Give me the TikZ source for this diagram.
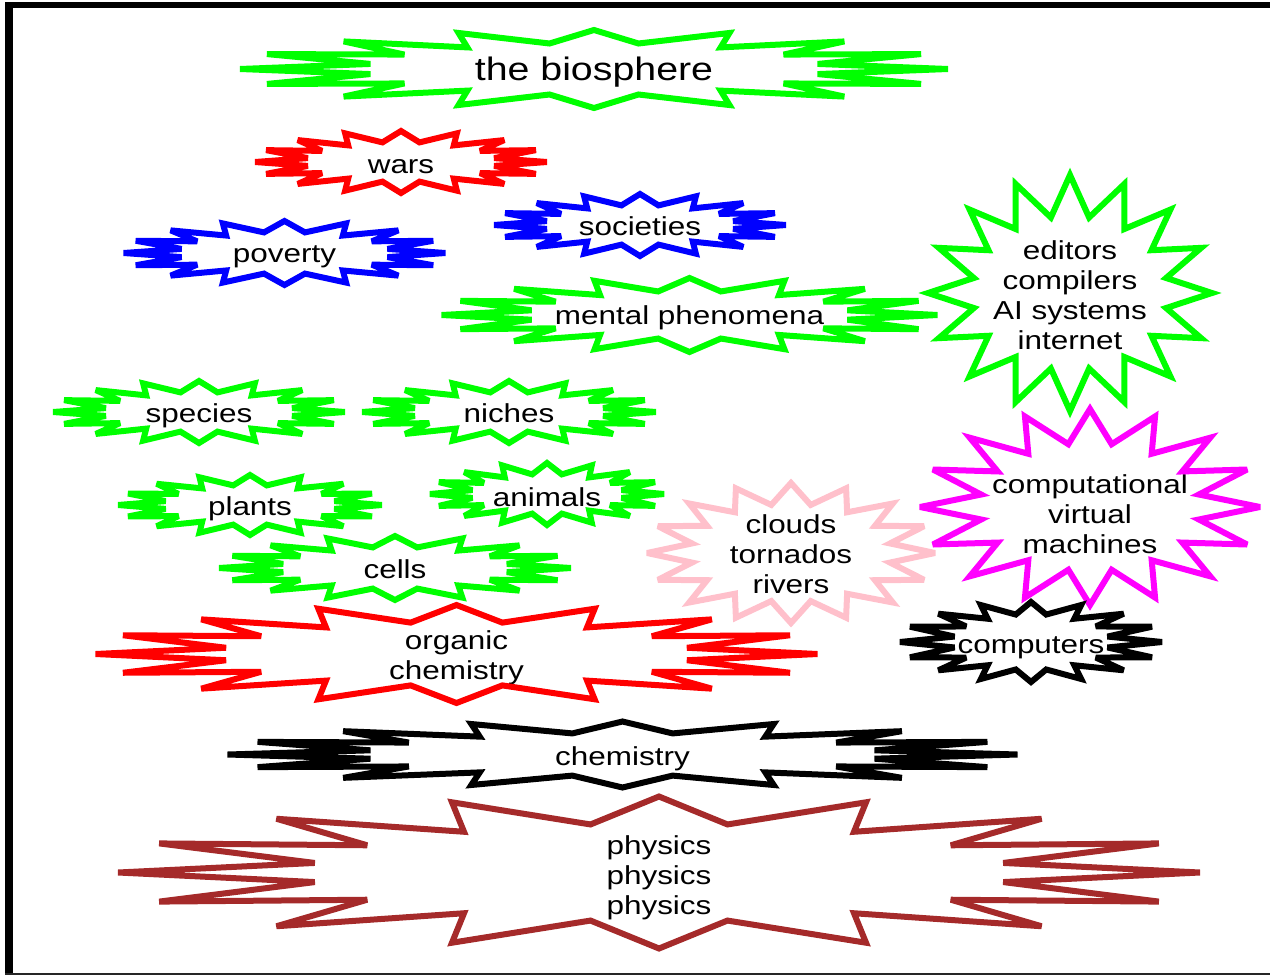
\documentclass[tikz,border=0pt]{standalone}
\usepackage{fontspec}
\setmainfont{Liberation Sans}[FakeStretch=1.21]
\usetikzlibrary{calc}

\definecolor{bgreen}{RGB}{0,255,0}
\definecolor{bred}{RGB}{255,0,0}
\definecolor{bblue}{RGB}{0,0,255}
\definecolor{bpink}{RGB}{255,192,203}
\definecolor{bmagenta}{RGB}{255,0,255}
\definecolor{bbrown}{RGB}{165,42,42}

% 16-point burst around a node:
% #1 draw options, #2 node, #3 vertical offset of the burst centre,
% #4/#5 outer x/y radius, #6/#7 inner x/y radius
\newcommand\burst[7]{%
  \coordinate (#2-c) at ($(#2)+(0,#3)$);
  \draw[burstline,#1] ($(#2-c)+(0:#4 and #5)$)
    \foreach \k in {0,...,15}{
      -- ($(#2-c)+({\k*22.5+11.25}:#6 and #7)$)
      -- ($(#2-c)+({\k*22.5+22.5}:#4 and #5)$)
    } -- cycle;
}

\begin{document}
\begin{tikzpicture}[x=1pt,y=-1pt,
  burstline/.style={line width=6pt, miter limit=4},
  lbl/.style={font=\fontsize{26}{30}\selectfont, align=center, inner sep=0pt},
  big/.style={font=\fontsize{32.5}{38}\selectfont, align=center, inner sep=0pt}]
\useasboundingbox (0,0) rectangle (1270,975);

% frame
\fill[black] (5,2) rectangle (13,975);
\fill[black] (5,2) rectangle (1270,8);
\fill[black!85] (5,972.5) rectangle (1270,975);

% labels
\node[big] (bio) at (594,72) {the biosphere};
\node[lbl] (wars) at (401,167) {wars};
\node[lbl] (soc) at (640,226) {societies};
\node[lbl] (pov) at (284.5,257) {poverty};
\node[lbl] (mental) at (689.5,318) {mental phenomena};
\node[lbl] (tools) at (1070,295.5) {editors\\compilers\\AI systems\\internet};
\node[lbl] (species) at (199,416) {species};
\node[lbl] (niches) at (509,413) {niches};
\node[lbl] (plants) at (250,509) {plants};
\node[lbl] (animals) at (547,497) {animals};
\node[lbl] (cells) at (395,569) {cells};
\node[lbl] (clouds) at (791,554) {clouds\\tornados\\rivers};
\node[lbl] (cvm) at (1090,514) {computational\\virtual\\machines};
\node[lbl] (comp) at (1031,648) {computers};
\node[lbl] (orgchem) at (456.5,658) {organic\\chemistry};
\node[lbl] (chem) at (622.5,759) {chemistry};
\node[lbl] (phys) at (659,878) {physics\\physics\\physics};

% bursts
\burst{bgreen}{bio}{-3}{354}{39}{228}{26}
\burst{bred}{wars}{-5}{146}{31}{95}{20}
\burst{bblue}{soc}{-1}{146}{31}{95}{20}
\burst{bblue}{pov}{-4}{161}{32}{105}{21}
\burst{bgreen}{mental}{-3}{248}{37}{161}{24}
\burst{bgreen}{tools}{-2.5}{142}{118}{98}{77}
\burst{bgreen}{species}{-4}{146}{31}{95}{20}
\burst{bgreen}{niches}{-1}{147}{31}{96}{20}
\burst{bgreen}{plants}{-4}{132}{30}{86}{20}
\burst{bgreen}{animals}{-3}{117}{31}{76}{20}
\burst{bgreen}{cells}{-1}{176}{32}{114}{21}
\burst{bpink}{clouds}{-1}{144}{70}{101}{49}
\burst{bmagenta}{cvm}{-7}{170}{98}{111}{64}
\burst{black}{comp}{-6}{131}{40}{78}{28}
\burst{bred}{orgchem}{-4}{361}{49}{235}{32}
\burst{black}{chem}{-4.5}{395}{33}{257}{21.5}
\burst{bbrown}{phys}{-5.5}{541}{76}{351}{49}
\end{tikzpicture}
\end{document}
